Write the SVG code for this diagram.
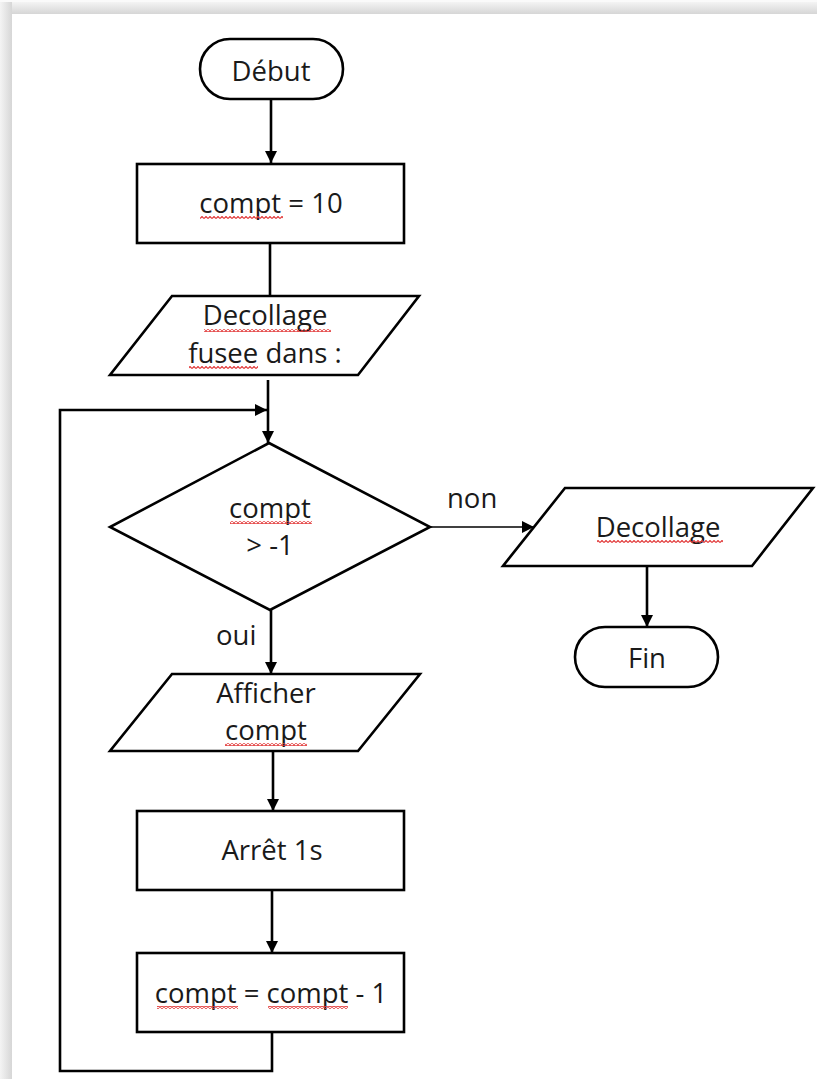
<svg xmlns="http://www.w3.org/2000/svg" width="817" height="1079" viewBox="0 0 817 1079">
<defs>
<linearGradient id="gt" x1="0" y1="0" x2="0" y2="1"><stop offset="0" stop-color="#f4f4f4"/><stop offset="1" stop-color="#d6d6d6"/></linearGradient>
<linearGradient id="gl" x1="0" y1="0" x2="1" y2="0"><stop offset="0" stop-color="#f4f4f4"/><stop offset="1" stop-color="#d6d6d6"/></linearGradient>
<marker id="ah" markerUnits="userSpaceOnUse" markerWidth="12" markerHeight="12" refX="12" refY="6" orient="auto"><path d="M0,0 L12,6 L0,12 z" fill="#000"/></marker>
<pattern id="sq" width="4" height="3" patternUnits="userSpaceOnUse"><path d="M0,2.5 L2,0.5 L4,2.5" fill="none" stroke="#e23b3b" stroke-width="1.2"/></pattern>
<style>
.s{fill:#fff;stroke:#000;stroke-width:2.6}
.t{font-family:"Open Sans","Liberation Sans",sans-serif;font-size:27.5px;fill:#1a1a1a;text-anchor:middle}
.l{font-family:"Open Sans","Liberation Sans",sans-serif;font-size:27.5px;fill:#1a1a1a}
.c{fill:none;stroke:#000;stroke-width:2.6}
.cn{fill:none;stroke:#000;stroke-width:1.6}
.w{fill:url(#sq)}
</style>
</defs>
<rect width="817" height="1079" fill="#fafafa"/>
<rect x="0" y="2" width="817" height="12" fill="url(#gt)"/>
<rect x="0" y="2" width="12" height="1077" fill="url(#gl)"/>
<rect x="12" y="14" width="805" height="1065" fill="#fff"/>

<g id="connectors">
<line class="c" x1="271" y1="100" x2="271" y2="163" marker-end="url(#ah)"/>
<line class="c" x1="270" y1="243" x2="270" y2="296"/>
<line class="c" x1="268" y1="380" x2="268" y2="443" marker-end="url(#ah)"/>
<polyline class="c" points="272,1032 272,1071 60,1071 60,410 267,410" marker-end="url(#ah)"/>
<line class="c" x1="271" y1="610" x2="271" y2="674" marker-end="url(#ah)"/>
<line class="cn" x1="430" y1="527" x2="534" y2="527" marker-end="url(#ah)"/>
<line class="c" x1="647" y1="566" x2="647" y2="627" marker-end="url(#ah)"/>
<line class="c" x1="273" y1="752" x2="273" y2="811" marker-end="url(#ah)"/>
<line class="c" x1="272" y1="890" x2="272" y2="953" marker-end="url(#ah)"/>
<text class="l" x="447" y="508">non</text>
<text class="l" x="216" y="645">oui</text>
</g>

<g id="debut">
<rect class="s" x="200" y="39" width="143" height="60" rx="30"/>
<text class="t" x="271" y="81">Début</text>
</g>
<g id="init">
<rect class="s" x="137" y="164" width="267" height="79"/>
<text class="t" x="271" y="213">compt = 10</text>
<rect class="w" x="200" y="216" width="83" height="3"/>
</g>
<g id="aff1">
<polygon class="s" points="172,296 419,296 358,375 110,375"/>
<text class="t" x="265" y="325">Decollage</text>
<text class="t" x="265" y="363">fusee dans :</text>
<rect class="w" x="204" y="329" width="127" height="3"/>
<rect class="w" x="189" y="366" width="69" height="3"/>
</g>
<g id="decision">
<polygon class="s" points="269,443 430,527 270,610 110,527"/>
<text class="t" x="270" y="518">compt</text>
<text class="t" x="270" y="555">&gt; -1</text>
<rect class="w" x="230" y="521" width="82" height="3"/>
</g>
<g id="aff2">
<polygon class="s" points="172,674 420,674 358,751 110,751"/>
<text class="t" x="266" y="703">Afficher</text>
<text class="t" x="266" y="740">compt</text>
<rect class="w" x="225" y="743" width="82" height="3"/>
</g>
<g id="arret">
<rect class="s" x="137" y="811" width="267" height="79"/>
<text class="t" x="272" y="860">Arrêt 1s</text>
</g>
<g id="decr">
<rect class="s" x="137" y="953" width="267" height="79"/>
<text class="t" x="271" y="1003">compt = compt - 1</text>
<rect class="w" x="157" y="1006" width="81" height="3"/>
<rect class="w" x="268" y="1006" width="80" height="3"/>
</g>
<g id="aff3">
<polygon class="s" points="565,488 813,488 752,566 503,566"/>
<text class="t" x="658" y="537">Decollage</text>
<rect class="w" x="597" y="540" width="126" height="3"/>
</g>
<g id="fin">
<rect class="s" x="575" y="627" width="143" height="60" rx="30"/>
<text class="t" x="647" y="668">Fin</text>
</g>
</svg>
